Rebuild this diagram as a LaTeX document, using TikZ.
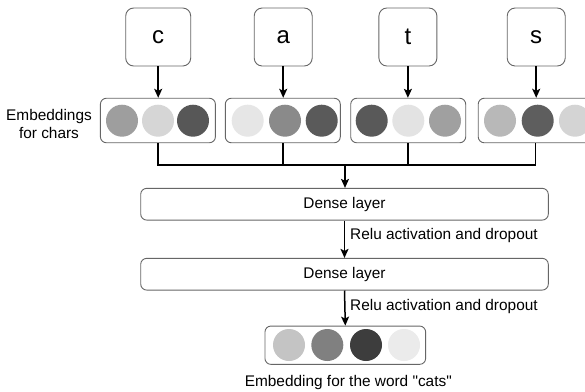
\documentclass[tikz,border=0pt]{standalone}
\usepackage{fontspec}
\setmainfont{Liberation Sans}[Ligatures=TeXOff]
\usetikzlibrary{arrows.meta}
\definecolor{boxgray}{HTML}{666666}
\definecolor{gA}{HTML}{9E9E9E}
\definecolor{gB}{HTML}{D6D6D6}
\definecolor{gC}{HTML}{575757}
\definecolor{gD}{HTML}{E6E6E6}
\definecolor{gE}{HTML}{8A8A8A}
\definecolor{gF}{HTML}{5A5A5A}
\definecolor{gG}{HTML}{595959}
\definecolor{gH}{HTML}{E3E3E3}
\definecolor{gI}{HTML}{A0A0A0}
\definecolor{gJ}{HTML}{B8B8B8}
\definecolor{gK}{HTML}{5E5E5E}
\definecolor{gL}{HTML}{D4D4D4}
\definecolor{gM}{HTML}{C4C4C4}
\definecolor{gN}{HTML}{808080}
\definecolor{gO}{HTML}{3D3D3D}
\definecolor{gP}{HTML}{EBEBEB}
\begin{document}
\begin{tikzpicture}[x=1pt,y=-1pt,
 charbox/.style={draw=boxgray, line width=0.9pt, rounded corners=8pt, minimum width=58pt, minimum height=58pt, font=\fontsize{24}{28}\selectfont, inner sep=0pt},
 embbox/.style={draw=boxgray, line width=0.9pt, rounded corners=6pt, minimum width=115pt, minimum height=44.5pt, inner sep=0pt},
 dot/.style={circle, minimum size=32pt, inner sep=0pt},
 dense/.style={draw=boxgray, line width=0.9pt, rounded corners=6pt, minimum width=407.6pt, minimum height=31.7pt, inner sep=0pt, font=\fontsize{15.4}{17.5}\selectfont},
 conn/.style={line width=1.5pt},
 arr/.style={conn, -{Stealth[length=9pt,width=8pt,inset=2pt]}},
 lbl/.style={font=\fontsize{15.4}{17.5}\selectfont, inner sep=0pt}
]
\fill[white] (0,0) rectangle (585,391);
\useasboundingbox (0,0) rectangle (585,391);

% character boxes
\node[charbox, minimum width=65pt] (cc) at (158.2,37) {c};
\node[charbox] (ca) at (283.2,37) {a};
\node[charbox] (ct) at (407.9,37) {t};
\node[charbox] (cs) at (536.2,37) {s};

% embedding boxes
\node[embbox] (ec) at (157.9,120.5) {};
\node[embbox] (ea) at (282.8,120.5) {};
\node[embbox] (et) at (408.2,120.5) {};
\node[embbox] (es) at (535.7,120.5) {};

\node[dot, fill=gA] (ec1) at (122,120.7) {};
\node[dot, fill=gB] (ec2) at (158,120.7) {};
\node[dot, fill=gC] (ec3) at (193,120.7) {};
\node[dot, fill=gD] (ea1) at (247.7,120.7) {};
\node[dot, fill=gE] (ea2) at (285,120.7) {};
\node[dot, fill=gF] (ea3) at (321.7,120.7) {};
\node[dot, fill=gG] (et1) at (371.7,120.7) {};
\node[dot, fill=gH] (et2) at (408.3,120.7) {};
\node[dot, fill=gI] (et3) at (445,120.7) {};
\node[dot, fill=gJ] (es1) at (500,120.7) {};
\node[dot, fill=gK] (es2) at (537.7,120.7) {};
\node[dot, fill=gL] (es3) at (575,120.7) {};

\node[lbl, align=center] (elbl) at (49,124) {Embeddings\\for chars};

% dense layers
\node[dense] (d1) at (344.5,204.2) {Dense layer};
\node[dense] (d2) at (344.5,274.2) {Dense layer};

% output
\node[embbox, minimum width=160.7pt, minimum height=38.3pt] (out) at (345.3,345.2) {};
\node[dot, fill=gM] (o1) at (289,345) {};
\node[dot, fill=gN] (o2) at (327.3,345) {};
\node[dot, fill=gO] (o3) at (366,345) {};
\node[dot, fill=gP] (o4) at (404,345) {};

\node[lbl, anchor=base] (olbl) at (348.3,386.7) {Embedding for the word "cats"};

% connectors
\draw[arr] (cc.south) -- (cc.south |- ec.north);
\draw[arr] (ca.south) -- (ca.south |- ea.north);
\draw[arr] (ct.south) -- (ct.south |- et.north);
\draw[arr] (cs.south) -- (cs.south |- es.north);

\coordinate (bus) at (345,165);
\draw[conn] (ec.south) -- (ec.south |- bus) -- (es.south |- bus) -- (es.south);
\draw[conn] (ea.south) -- (ea.south |- bus);
\draw[conn] (et.south) -- (et.south |- bus);
\draw[arr] (bus) -- (bus |- d1.north);
\draw[arr] (d1.south) -- (d2.north);
\draw[arr] (d2.south) -- (out.north);

\node[lbl, anchor=base west] (r1) at (350,239.3) {Relu activation and dropout};
\node[lbl, anchor=base west] (r2) at (350,310) {Relu activation and dropout};
\end{tikzpicture}
\end{document}
